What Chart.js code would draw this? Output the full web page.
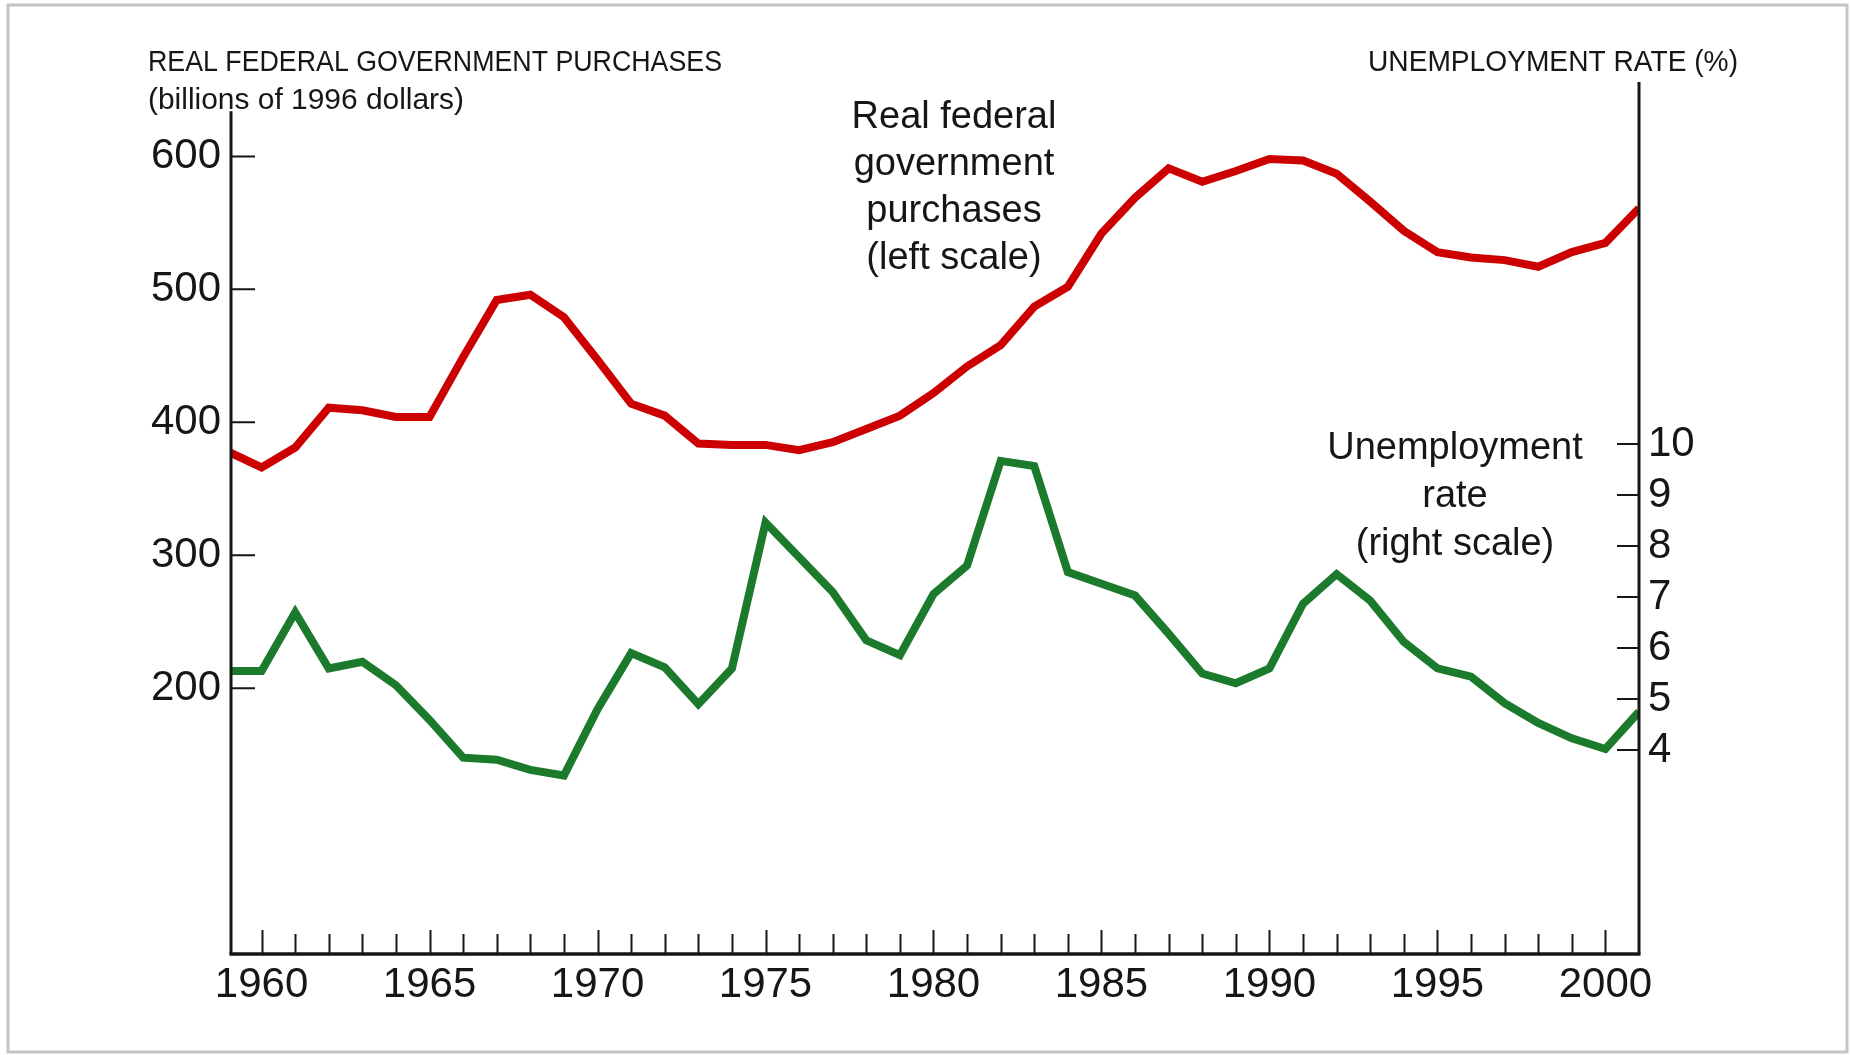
<!DOCTYPE html>
<html>
<head>
<meta charset="utf-8">
<title>Real federal government purchases and the unemployment rate</title>
<script src="https://cdn.jsdelivr.net/npm/chart.js@4.4.1/dist/chart.umd.min.js"></script>
<style>
  html, body { margin: 0; padding: 0; background: #fff; }
  #wrap { width: 1851px; height: 1055px; }
</style>
</head>
<body>
<div id="wrap"><canvas id="chart" width="1851" height="1055"></canvas></div>
<script>
// === Данные (читаются с картинки) ===
const years = [
  1959, 1960, 1961, 1962, 1963, 1964, 1965, 1966, 1967, 1968, 1969,
  1970, 1971, 1972, 1973, 1974, 1975, 1976, 1977, 1978, 1979,
  1980, 1981, 1982, 1983, 1984, 1985, 1986, 1987, 1988, 1989,
  1990, 1991, 1992, 1993, 1994, 1995, 1996, 1997, 1998, 1999,
  2000, 2001
];

// billions of 1996 dollars (left scale)
const purchases = [
  378, 366, 381, 411, 409, 404, 404, 449, 492, 496, 479,
  447, 414, 405, 384, 383, 383, 379, 385, 395, 405,
  422, 442, 458, 487, 502, 542, 569, 591, 581, 589,
  598, 597, 587, 566, 544, 528, 524, 522, 517, 528,
  535, 561
];

// % (right scale)
const unemployment = [
  5.55, 5.55, 6.7, 5.6, 5.73, 5.27, 4.59, 3.85, 3.81, 3.61, 3.5,
  4.8, 5.9, 5.62, 4.9, 5.6, 8.46, 7.78, 7.1, 6.15, 5.86,
  7.06, 7.62, 9.67, 9.57, 7.49, 7.26, 7.03, 6.28, 5.5, 5.31,
  5.6, 6.87, 7.45, 6.93, 6.12, 5.6, 5.44, 4.92, 4.53, 4.23,
  4.02, 4.75
];

const yearLabels = [1960, 1965, 1970, 1975, 1980, 1985, 1990, 1995, 2000];
const yearMinorTicks = years.filter(y => y >= 1960 && y <= 2000);
const purchaseTicks = [200, 300, 400, 500, 600];
const rateTicks = [4, 5, 6, 7, 8, 9, 10];

const FONT = "'Liberation Sans', Arial, sans-serif";
const INK = "#161616";
const RED = "#cc0000";
const GREEN = "#1b7a2b";

// левая ось начинается ниже правой
const leftAxisTop = 634;

// текст, сжатый по ширине до нужного размера (шрифт в оригинале узкий)
function fillFitted(ctx, text, x, y, width, align) {
  const w = ctx.measureText(text).width;
  const sx = width / w;
  ctx.save();
  ctx.translate(align === "right" ? x - width : x, y);
  ctx.scale(sx, 1);
  ctx.textAlign = "left";
  ctx.fillText(text, 0, 0);
  ctx.restore();
}

// рамка, оси и засечки внутрь графика
const axesPlugin = {
  id: "axesPlugin",
  beforeDraw(chart) {
    const ctx = chart.ctx;
    ctx.save();
    ctx.fillStyle = "#fff";
    ctx.fillRect(0, 0, chart.width, chart.height);
    ctx.strokeStyle = "#c4c4c4";
    ctx.lineWidth = 3;
    ctx.strokeRect(8, 5, 1839, 1047);
    ctx.restore();
  },
  afterDatasetsDraw(chart) {
    const { ctx, chartArea: a, scales } = chart;
    const x = scales.x, y = scales.y, y2 = scales.y2;
    ctx.save();
    ctx.strokeStyle = INK;
    ctx.lineCap = "butt";

    ctx.lineWidth = 3;
    ctx.beginPath();
    ctx.moveTo(a.left, y.getPixelForValue(leftAxisTop));
    ctx.lineTo(a.left, a.bottom);
    ctx.moveTo(a.right, a.top);
    ctx.lineTo(a.right, a.bottom);
    ctx.stroke();

    ctx.lineWidth = 3.5;
    ctx.beginPath();
    ctx.moveTo(a.left - 1.5, a.bottom);
    ctx.lineTo(a.right + 1.5, a.bottom);
    ctx.stroke();

    ctx.lineWidth = 2;
    ctx.beginPath();
    yearMinorTicks.forEach(v => {
      const px = Math.round(x.getPixelForValue(v)) + 0.5;
      const len = yearLabels.includes(v) ? 24 : 20;
      ctx.moveTo(px, a.bottom);
      ctx.lineTo(px, a.bottom - len);
    });
    purchaseTicks.forEach(v => {
      const py = y.getPixelForValue(v);
      ctx.moveTo(a.left, py);
      ctx.lineTo(a.left + 24, py);
    });
    rateTicks.forEach(v => {
      const py = y2.getPixelForValue(v);
      ctx.moveTo(a.right, py);
      ctx.lineTo(a.right - 22, py);
    });
    ctx.stroke();
    ctx.restore();
  },
  afterDraw(chart) {
    const ctx = chart.ctx;
    ctx.save();
    ctx.fillStyle = INK;
    ctx.textBaseline = "alphabetic";

    ctx.font = `29px ${FONT}`;
    fillFitted(ctx, "REAL FEDERAL GOVERNMENT PURCHASES", 148, 71, 574, "left");
    fillFitted(ctx, "UNEMPLOYMENT RATE (%)", 1738, 71, 370, "right");
    ctx.font = `29.5px ${FONT}`;
    fillFitted(ctx, "(billions of 1996 dollars)", 148, 109, 316, "left");

    ctx.font = `38px ${FONT}`;
    ctx.textAlign = "center";
    ["Real federal", "government", "purchases", "(left scale)"].forEach((t, i) => {
      ctx.fillText(t, 954, 128 + i * 47);
    });
    ["Unemployment", "rate", "(right scale)"].forEach((t, i) => {
      ctx.fillText(t, 1455, 459 + i * 48);
    });
    ctx.restore();
  }
};

const tickFont = { family: FONT, size: 42 };

new Chart(document.getElementById("chart"), {
  type: "line",
  data: {
    datasets: [
      {
        label: "Real federal government purchases",
        data: years.map((yr, i) => ({ x: yr, y: purchases[i] })),
        yAxisID: "y",
        borderColor: RED,
        borderWidth: 8,
        borderJoinStyle: "miter",
        pointRadius: 0,
        tension: 0,
        clip: 0
      },
      {
        label: "Unemployment rate",
        data: years.map((yr, i) => ({ x: yr, y: unemployment[i] })),
        yAxisID: "y2",
        borderColor: GREEN,
        borderWidth: 8,
        borderJoinStyle: "miter",
        pointRadius: 0,
        tension: 0,
        clip: 0
      }
    ]
  },
  options: {
    responsive: false,
    animation: false,
    layout: { padding: { top: 82, left: 0, right: 0, bottom: 0 } },
    plugins: { legend: { display: false }, tooltip: { enabled: false } },
    scales: {
      x: {
        type: "linear",
        min: 1959.09,
        max: 2001,
        grid: { display: false, drawTicks: false },
        border: { display: false },
        afterBuildTicks: s => { s.ticks = yearLabels.map(v => ({ value: v })); },
        afterFit: s => { s.height = 101; },
        ticks: {
          font: tickFont, color: INK, padding: 6,
          maxRotation: 0, autoSkip: false,
          callback: v => String(v)
        }
      },
      y: {
        type: "linear",
        position: "left",
        min: 0,
        max: 656,
        grid: { display: false, drawTicks: false },
        border: { display: false },
        afterBuildTicks: s => { s.ticks = purchaseTicks.map(v => ({ value: v })); },
        afterFit: s => { s.width = 231; },
        ticks: { font: tickFont, color: INK, padding: 10, callback: v => String(v) }
      },
      y2: {
        type: "linear",
        position: "right",
        min: 0,
        max: 17.1,
        grid: { display: false, drawTicks: false },
        border: { display: false },
        afterBuildTicks: s => { s.ticks = rateTicks.map(v => ({ value: v })); },
        afterFit: s => { s.width = 212; },
        ticks: { font: tickFont, color: INK, padding: 9, callback: v => String(v) }
      }
    }
  },
  plugins: [axesPlugin]
});
</script>
</body>
</html>
